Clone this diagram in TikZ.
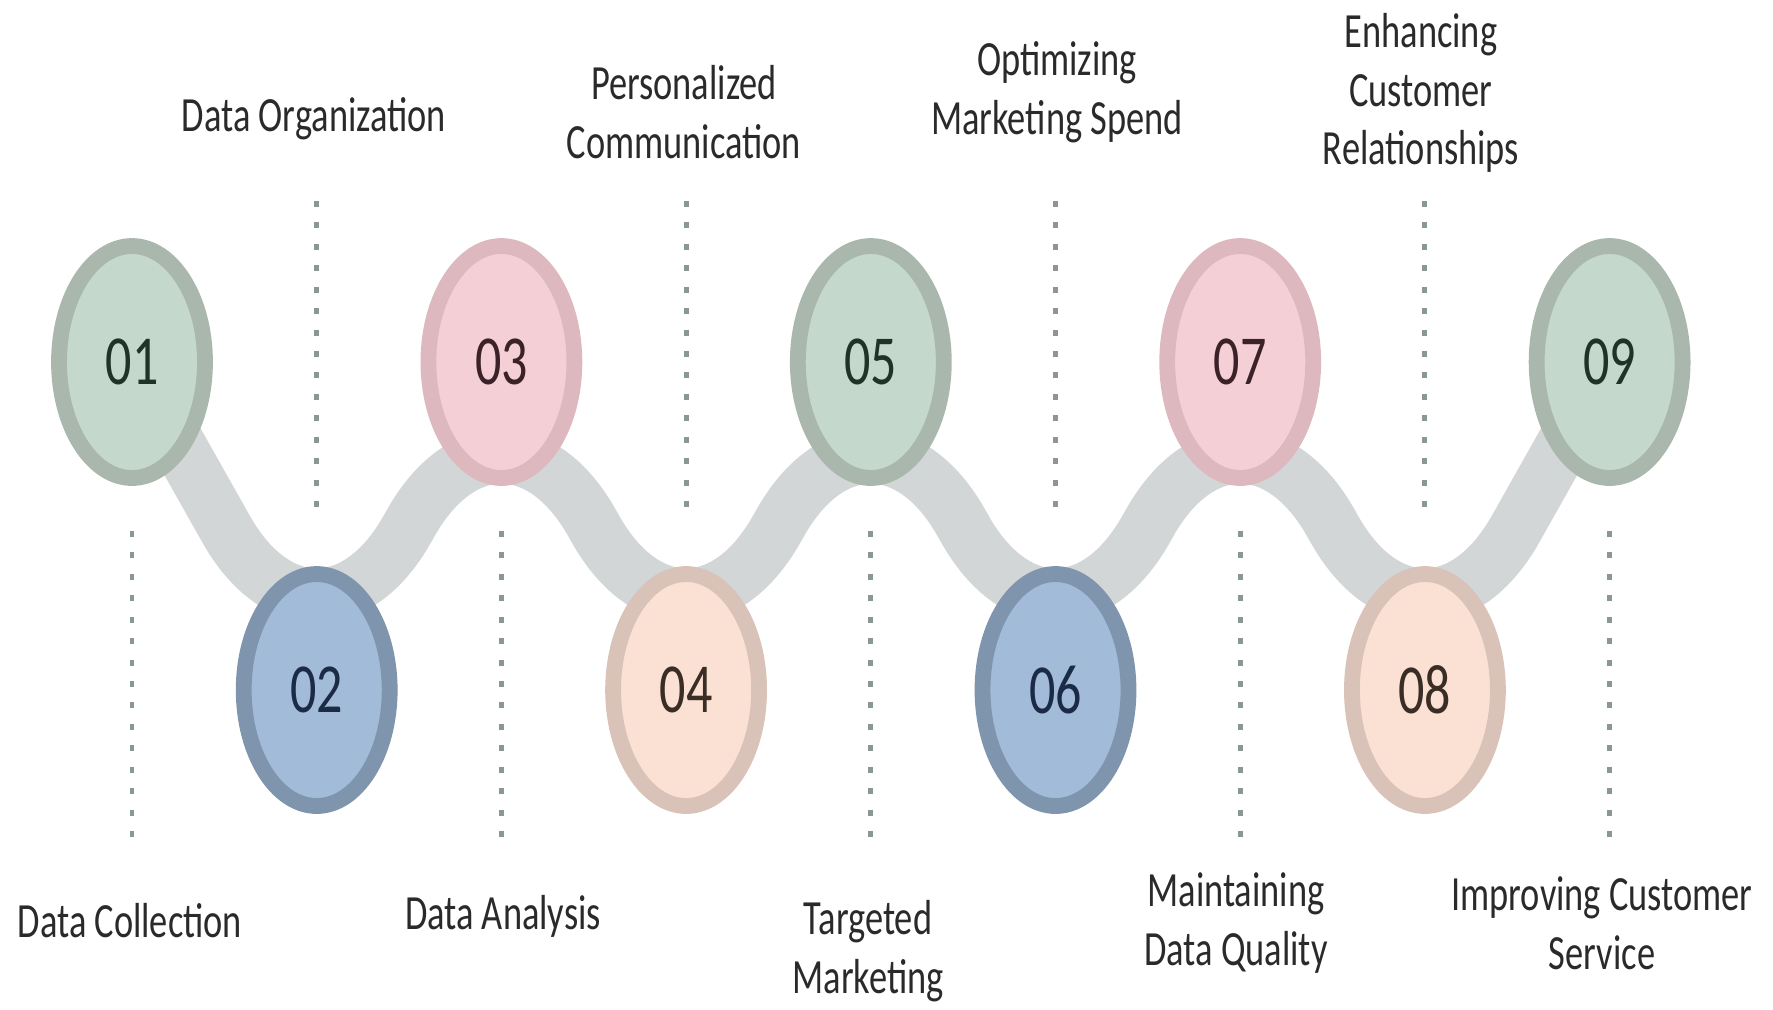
\documentclass[tikz,border=0pt]{standalone}
\usepackage{fontspec}
\setmainfont[FakeStretch=0.74]{Carlito}
\usepackage{tikz}
\usetikzlibrary{shapes.geometric,calc}
\definecolor{sage}{HTML}{A9B7AD}
\definecolor{sagein}{HTML}{C4D8CB}
\definecolor{sagetxt}{HTML}{1F3326}
\definecolor{rose}{HTML}{DDB9BF}
\definecolor{rosein}{HTML}{F5CFD6}
\definecolor{rosetxt}{HTML}{3B2228}
\definecolor{peach}{HTML}{D9C3B8}
\definecolor{peachin}{HTML}{FBE1D3}
\definecolor{peachtxt}{HTML}{3A2D25}
\definecolor{steel}{HTML}{7E95AD}
\definecolor{steelin}{HTML}{A2BBD8}
\definecolor{steeltxt}{HTML}{1B2B45}
\definecolor{band}{HTML}{D3D6D7}
\definecolor{leader}{HTML}{8A9797}
\definecolor{ink}{HTML}{2A2A2A}

\begin{document}
\begin{tikzpicture}[x=0.02cm,y=-0.02cm,
    stepdot/.style={ellipse,inner sep=0pt,minimum width=2.92cm,minimum height=4.64cm,line width=9pt,font=\fontsize{40}{40}\selectfont},
    leaderline/.style={leader,line width=2.8pt,dash pattern=on 3.4pt off 8.8pt},
    lbl/.style={text=ink,align=center,font=\fontsize{28}{33.5}\selectfont}]
        \useasboundingbox (0,0) rectangle (1773,1009);
        \foreach \i/\y in {1/362,2/690,3/362,4/690,5/362,6/690,7/362,8/690,9/362}
          \coordinate (c\i) at ({132+184.7*(\i-1)},\y);
        \draw[band,line width=31pt,rounded corners=3.7cm] (c1)--(c2)--(c3)--(c4)--(c5)--(c6)--(c7)--(c8)--(c9);
        \foreach \i in {1,3,5,7,9}{\draw[leaderline] ($(c\i)+(0,169)$)--($(c\i)+(0,486)$);}
        \foreach \i in {2,4,6,8}{\draw[leaderline] ($(c\i)+(0,-489)$)--($(c\i)+(0,-172)$);}
        \foreach \i/\col in {1/sage,2/steel,3/rose,4/peach,5/sage,6/steel,7/rose,8/peach,9/sage}
          \node[stepdot,draw=\col,fill=\col in,text=\col txt] (n\i) at (c\i) {0\i};
        % labels
        \node[lbl] (l1) at (130,921) {Data Collection};
        \node[lbl] (l2) at (314,119) {Data Organization};
        \node[lbl] (l3) at (503,916) {Data Analysis};
        \node[lbl] (l4) at (684,112) {Personalized\\Communication};
        \node[lbl] (l5) at (868,951) {Targeted\\Marketing};
        \node[lbl] (l6) at (1057,92) {Optimizing\\Marketing Spend};
        \node[lbl] (l7) at (1236,923) {Maintaining\\Data Quality};
        \node[lbl] (l8) at (1421,93) {Enhancing\\Customer\\Relationships};
        \node[lbl] (l9) at (1602,923) {Improving Customer\\Service};
      \end{tikzpicture}
\end{document}
